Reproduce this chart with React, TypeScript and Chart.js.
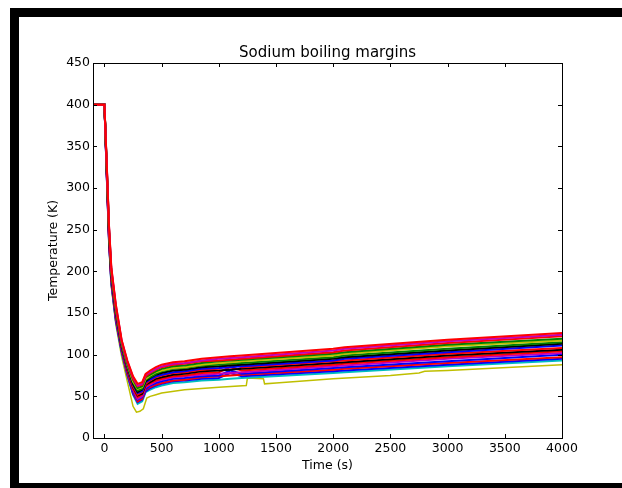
import React, { useEffect, useRef } from "react";
import { Chart, registerables } from "chart.js";

Chart.register(...registerables);

// Time axis (s) shared by the band of boiling-margin traces
const TIME = [-100, 0, 20, 40, 60, 100, 150, 200, 250, 290, 330, 360, 400, 450, 500, 600, 700, 850, 1000, 1100, 1200, 2000, 2100, 3000, 4000];

// Traces, listed from the top of the band (R00) to the bottom (R15)
const R00 = [400, 400, 330, 255, 205, 160, 118, 93, 74, 65, 67, 77, 81, 85, 88, 91, 92, 95, 97, 98, 99, 107, 109, 118, 126];
const R01 = [400, 400, 329, 254, 204, 159, 117, 92, 73, 63, 65, 76, 79, 83, 86, 89, 90, 93, 95, 96, 97, 105, 107, 116, 124];
const R02 = [400, 400, 328, 252, 202, 157, 116, 91, 71, 62, 64, 74, 78, 82, 85, 88, 89, 92, 93, 94, 95, 103, 105, 114, 122];
const R03 = [400, 400, 327, 251, 201, 156, 115, 89, 70, 60, 62, 73, 76, 80, 83, 86, 87, 90, 92, 93, 94, 101, 103, 112, 119];
const R04 = [400, 400, 326, 250, 200, 155, 114, 88, 68, 59, 61, 71, 75, 79, 81, 84, 85, 88, 90, 91, 92, 99, 101, 110, 117];
const R05 = [400, 400, 325, 248, 198, 153, 113, 87, 67, 57, 59, 70, 73, 77, 80, 83, 84, 87, 88, 89, 90, 97, 99, 107, 115];
const R06 = [400, 400, 324, 247, 197, 152, 112, 86, 65, 55, 58, 68, 72, 76, 78, 81, 82, 85, 86, 87, 88, 95, 97, 105, 113];
const R07 = [400, 400, 323, 246, 196, 151, 111, 85, 64, 54, 56, 67, 70, 74, 76, 79, 80, 83, 84, 85, 86, 93, 95, 103, 111];
const R08 = [400, 400, 322, 244, 194, 149, 110, 83, 62, 52, 55, 65, 69, 73, 75, 78, 79, 82, 83, 89, 85, 92, 93, 101, 108];
const R09 = [400, 400, 321, 243, 193, 148, 109, 82, 61, 51, 53, 64, 67, 71, 73, 76, 77, 80, 81, 82, 83, 90, 91, 99, 106];
const R10 = [400, 400, 320, 242, 192, 147, 108, 81, 59, 49, 52, 62, 66, 69, 71, 74, 75, 78, 79, 85, 81, 88, 89, 97, 104];
const R11 = [400, 400, 319, 240, 190, 145, 107, 80, 58, 47, 50, 61, 64, 68, 70, 73, 74, 76, 77, 78, 79, 86, 87, 95, 102];
const R12 = [400, 400, 318, 239, 189, 144, 106, 79, 56, 46, 49, 59, 63, 66, 68, 71, 72, 74, 75, 81, 77, 84, 85, 92, 100];
const R13 = [400, 400, 317, 238, 188, 143, 105, 77, 55, 44, 47, 58, 61, 64, 66, 69, 70, 73, 74, 75, 76, 82, 83, 90, 97];
const R14 = [400, 400, 316, 236, 186, 141, 104, 76, 53, 43, 46, 56, 60, 63, 65, 68, 69, 71, 72, 78, 74, 80, 81, 88, 95];
const R15 = [400, 400, 315, 235, 185, 140, 103, 75, 52, 41, 44, 55, 58, 61, 63, 66, 67, 69, 70, 71, 72, 78, 79, 86, 93];

const BAND_COLORS = [
  "#ff0000", "#bf00bf", "#ff0000", "#008000", "#bfbf00", "#008000", "#000000", "#0000ff",
  "#ff0000", "#000000", "#ff0000", "#bf00bf", "#0000ff", "#ff0000", "#0000ff", "#00bfbf",
];

// The low yellow outlier trace
const YELLOW_TIME = [-100, 0, 20, 40, 60, 100, 150, 200, 250, 280, 310, 340, 370, 400, 450, 500, 700, 1000, 1240, 1250, 1390, 1400, 1500, 2000, 2500, 2750, 2800, 3000, 4000];
const YELLOW_VALUES = [400, 400, 312, 232, 182, 136, 98, 68, 38, 31, 32, 35, 48, 50, 52, 54, 58, 61, 63, 72, 71, 65, 66, 71, 75, 78, 80, 81, 88];
const YELLOW_COLOR = "#bfbf00";

const X_TICKS = [0, 500, 1000, 1500, 2000, 2500, 3000, 3500, 4000];
const Y_TICKS = [0, 50, 100, 150, 200, 250, 300, 350, 400, 450];

const TITLE = "Sodium boiling margins";
const X_LABEL = "Time (s)";
const Y_LABEL = "Temperature (K)";

const FONT = "'DejaVu Sans', sans-serif";

const mplFrame = {
  id: "mplFrame",
  afterDraw(chart: any) {
    const { ctx, chartArea: a, scales } = chart;
    ctx.save();
    ctx.strokeStyle = "#000";
    ctx.lineWidth = 1;
    ctx.beginPath();
    for (const v of X_TICKS) {
      const p = Math.round(scales.x.getPixelForValue(v)) + 0.5;
      ctx.moveTo(p, a.bottom);
      ctx.lineTo(p, a.bottom - 4);
      ctx.moveTo(p, a.top);
      ctx.lineTo(p, a.top + 4);
    }
    for (const v of Y_TICKS) {
      const p = Math.round(scales.y.getPixelForValue(v)) + 0.5;
      ctx.moveTo(a.left, p);
      ctx.lineTo(a.left + 4, p);
      ctx.moveTo(a.right, p);
      ctx.lineTo(a.right - 4, p);
    }
    ctx.stroke();
    ctx.strokeRect(Math.round(a.left) + 0.5, Math.round(a.top) + 0.5, Math.round(a.width), Math.round(a.height));
    ctx.fillStyle = "#000";
    ctx.font = `15px ${FONT}`;
    ctx.textAlign = "center";
    ctx.textBaseline = "alphabetic";
    ctx.fillText(TITLE, (a.left + a.right) / 2, 40);
    ctx.restore();
  },
};

export default function App() {
  const ref = useRef<HTMLCanvasElement | null>(null);

  useEffect(() => {
    if (!ref.current) return;
    // Chart.js paints dataset 0 last (on top): top-of-band traces first, yellow outlier last
    const bands = [R00, R01, R02, R03, R04, R05, R06, R07, R08, R09, R10, R11, R12, R13, R14, R15];
    const datasets: any[] = [
      ...bands.map((arr, k) => ({
        label: "s" + k,
        data: TIME.map((t, i) => ({ x: t, y: arr[i] })),
        borderColor: BAND_COLORS[k],
        borderWidth: 2,
        pointRadius: 0,
        fill: false,
      })),
      {
        label: "yellow",
        data: YELLOW_TIME.map((t, i) => ({ x: t, y: YELLOW_VALUES[i] })),
        borderColor: YELLOW_COLOR,
        borderWidth: 1.5,
        pointRadius: 0,
        fill: false,
      },
    ];
    const tickFont = { family: FONT, size: 12.5 };
    const chart = new Chart(ref.current, {
      type: "line",
      data: { datasets },
      options: {
        animation: false,
        responsive: false,
        maintainAspectRatio: false,
        layout: { padding: { left: 0, right: 60, top: 46, bottom: 0 } },
        plugins: { legend: { display: false }, tooltip: { enabled: false }, title: { display: false } },
        elements: { line: { tension: 0 } },
        scales: {
          x: {
            type: "linear",
            min: -100,
            max: 4000,
            afterBuildTicks: (s: any) => { s.ticks = X_TICKS.map((v) => ({ value: v })); },
            afterFit: (s: any) => { s.height = 45; },
            grid: { display: false, drawTicks: false },
            border: { display: false },
            ticks: { padding: 3.5, color: "#000", font: tickFont, maxRotation: 0, autoSkip: false, callback: (v: any) => String(v) },
            title: { display: true, text: X_LABEL, color: "#000", font: tickFont, padding: { top: 0, bottom: 9.5 } },
          },
          y: {
            type: "linear",
            min: 0,
            max: 450,
            afterBuildTicks: (s: any) => { s.ticks = Y_TICKS.map((v) => ({ value: v })); },
            afterFit: (s: any) => { s.width = 74; },
            grid: { display: false, drawTicks: false },
            border: { display: false },
            ticks: { padding: 3, color: "#000", font: tickFont, autoSkip: false, callback: (v: any) => String(v) },
            title: { display: true, text: Y_LABEL, color: "#000", font: tickFont, padding: { top: 27, bottom: 0 } },
          },
        },
      },
      plugins: [mplFrame],
    });
    return () => chart.destroy();
  }, []);

  return (
    <div>
      <div
        style={{
          position: "fixed",
          left: 10,
          top: 8,
          width: 612,
          height: 480,
          boxSizing: "border-box",
          borderTop: "9px solid #000",
          borderLeft: "9px solid #000",
          borderBottom: "5px solid #000",
          background: "#fff",
        }}
      />
      <canvas
        ref={ref}
        width={603}
        height={466}
        style={{ position: "fixed", left: 19, top: 17, width: 603, height: 466 }}
      />
    </div>
  );
}
